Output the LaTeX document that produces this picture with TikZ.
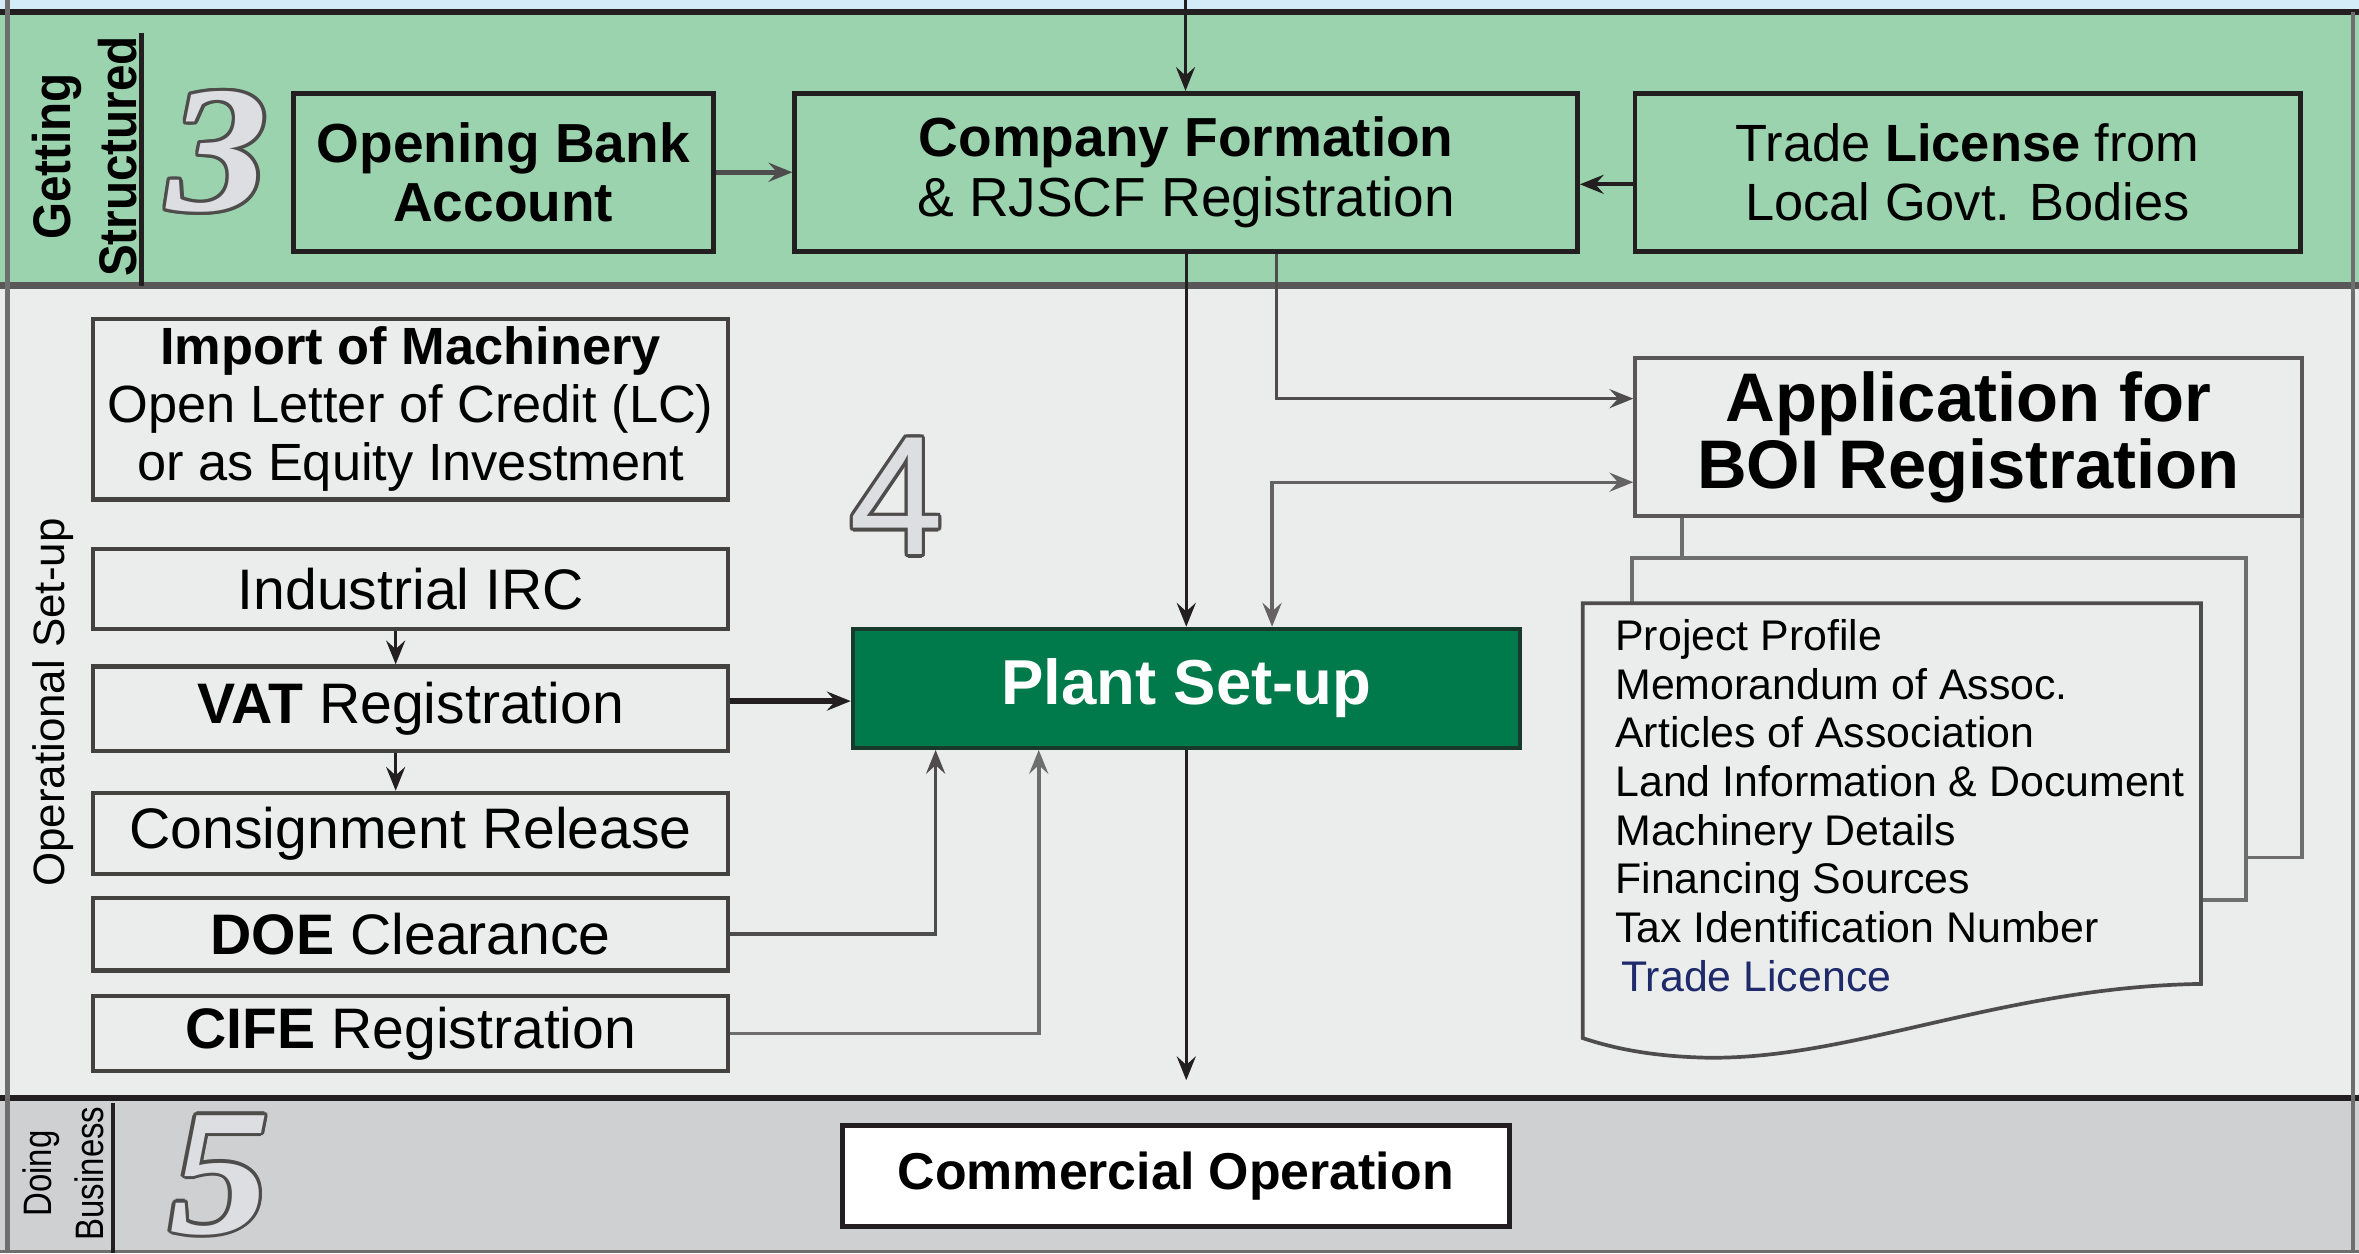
\documentclass[tikz,border=0pt]{standalone}
\usepackage{fontspec}
\setmainfont{Liberation Sans}
\newfontfamily\numserif{Liberation Serif}
\usetikzlibrary{arrows.meta,positioning}

\definecolor{bandblue}{HTML}{D3ECF8}
\definecolor{bandgreen}{HTML}{9AD3AE}
\definecolor{bandgrey}{HTML}{EBEDEC}
\definecolor{banddark}{HTML}{CFD0D2}
\definecolor{inkdark}{HTML}{231F20}
\definecolor{inkgrey}{HTML}{6E6E6E}
\definecolor{plantgreen}{HTML}{007A4A}
\definecolor{licblue}{HTML}{1F2A6B}
\definecolor{numfill}{HTML}{DCDEE2}

\newcommand{\fs}[2]{\fontsize{#1}{#2}\selectfont}

\begin{document}
\begin{tikzpicture}[x=0.01cm,y=-0.01cm,>={Stealth[length=4.5pt,width=3.6pt,inset=1.6pt]}]
        \tikzstyle{greenblock}=[rectangle, draw=inkdark, line width=0.9pt, fill=bandgreen, align=center, inner sep=0pt, minimum height=1.05cm, font=\fs{10.4}{11.2}]
        \tikzstyle{greyblock}=[rectangle, draw=inkdark!85, line width=0.8pt, fill=bandgrey, align=center, inner sep=0pt, minimum width=4.22cm, font=\fs{10.8}{12}]
        \tikzstyle{sidelabel}=[rotate=90, align=center, inner sep=0pt]
        \tikzstyle{sheet}=[draw=inkgrey, line width=0.7pt, fill=bandgrey]
        \tikzstyle{flow}=[->, draw=inkdark, line width=0.6pt]
        \tikzstyle{digitserif}=[inner sep=0pt, xscale=1.12, font=\numserif\bfseries\itshape\fs{34}{34}]
        \tikzstyle{digitsans}=[inner sep=0pt, font=\fs{32}{32}]
        \useasboundingbox (0,0) rectangle (1568,833);

        % bands
        \fill[bandblue] (0,0) rectangle (1568,8);
        \fill[bandgreen] (0,8) rectangle (1568,190);
        \fill[bandgrey] (0,190) rectangle (1568,730);
        \fill[banddark] (0,730) rectangle (1568,833);
        \draw[inkdark, line width=1.2pt] (0,8) -- (1568,8);
        \draw[inkdark!75, line width=1.3pt] (0,190) -- (1568,190);
        \draw[inkdark, line width=1.2pt] (0,730) -- (1568,730);
        \draw[inkgrey, line width=0.6pt] (0,832) -- (1568,832);
        \draw[inkgrey, line width=0.8pt] (5,0) -- (5,833);
        \draw[inkgrey, line width=0.8pt] (1564,8) -- (1564,833);
        \draw[inkdark, line width=0.8pt] (94,22) -- (94,190);
        \draw[inkdark, line width=0.8pt] (75,733) -- (75,833);

        % side labels and stage numbers
        \node[sidelabel, font=\bfseries\fs{10}{12.5}, xscale=0.9] (getting) at (56,104) {Getting\\Structured};
        \node[sidelabel, font=\fs{8.3}{10}] (opsetup) at (35,467) {Operational Set-up};
        \node[sidelabel, font=\fs{7.5}{9.7}, xscale=0.83] (doing) at (42,780) {Doing\\Business};
        \foreach \dg/\pos/\st in {3/{(145,101)}/digitserif, 4/{(596,330)}/digitsans, 5/{(146,781)}/digitserif} {
          \foreach \a in {0,30,...,330}
            \node[\st, text=inkdark!80, shift={(\a:0.022cm)}] at \pos {\dg};
          \node[\st, text=numfill] (num\dg) at \pos {\dg};
        }

        % getting structured
        \node[greenblock, minimum width=2.79cm] (bank) at (334.5,114.5) {\textbf{Opening Bank}\\\textbf{Account}};
        \node[greenblock, minimum width=5.2cm, right = 0.51cm of bank] (company) {\textbf{Company Formation}\\\& RJSCF Registration};
        \node[greenblock, minimum width=4.42cm, right = 0.35cm of company, font=\fs{9.9}{11.2}] (trade) {Trade \textbf{License} from\\Local Govt. Bodies};

        % operational set-up
        \node[greyblock, minimum height=1.2cm, font=\fs{9.9}{11}] (import) at (273,272) {\textbf{Import of Machinery}\\Open Letter of Credit (LC)\\or as Equity Investment};
        \node[greyblock, minimum height=0.53cm] (irc) at (273,391.5) {Industrial IRC};
        \node[greyblock, minimum height=0.56cm] (vat) at (273,471) {\textbf{VAT} Registration};
        \node[greyblock, minimum height=0.54cm] (consign) at (273,554) {Consignment Release};
        \node[greyblock, minimum height=0.48cm] (doe) at (273,621) {\textbf{DOE} Clearance};
        \node[greyblock, minimum height=0.5cm] (cife) at (273,687) {\textbf{CIFE} Registration};

        \node[rectangle, draw=inkdark!70!plantgreen, line width=0.8pt, fill=plantgreen, text=white, inner sep=0pt, minimum width=4.43cm, minimum height=0.79cm, font=\bfseries\fs{12}{14}] (plant) at (788.5,457.5) {Plant Set-up};

        % document stack behind the application
        \draw[sheet] (1118,330) rectangle (1530,570);
        \node[rectangle, draw=inkdark!75, line width=0.7pt, fill=bandgrey, align=center, inner sep=0pt, minimum width=4.43cm, minimum height=1.05cm, font=\bfseries\fs{13}{12.6}] (boi) at (1308.5,290.5) {Application for\\BOI Registration};
        \draw[sheet] (1085,371) rectangle (1493,598);
        \draw[sheet, draw=inkdark!80] (1052,401) -- (1463,401) -- (1463,654)
          .. controls (1330,656) and (1230,705) .. (1133,703)
          .. controls (1095,702) and (1070,696) .. (1052,690) -- cycle;
        \node[anchor=north west, align=left, inner sep=0pt, font=\fs{8.1}{9.2}] (docs) at (1073,411)
          {Project Profile\\Memorandum of Assoc.\\Articles of Association\\Land Information \& Document\\Machinery Details\\Financing Sources\\Tax Identification Number\\\hspace*{0.04cm}\textcolor{licblue}{Trade Licence}};

        % doing business
        \node[rectangle, draw=inkdark, line width=0.9pt, fill=white, inner sep=0pt, minimum width=4.43cm, minimum height=0.67cm, font=\bfseries\fs{9.8}{12}] (commercial) at (781.5,781.5) {Commercial Operation};

        % connectors
        \coordinate (entry) at (788,0);
        \coordinate (exit) at (788.5,718);
        \draw[flow] (entry) -- (entry |- company.north);
        \draw[->, draw=inkdark!80, line width=0.9pt] (bank) -- (company);
        \draw[flow, line width=0.8pt] ([yshift=-0.08cm]trade.west) -- ([yshift=-0.08cm]company.east);
        \draw[flow] (plant.north |- company.south) -- (plant.north);
        \draw[flow, draw=inkdark!80] ([xshift=0.6cm]company.south) |- ([yshift=0.255cm]boi.west);
        \draw[<->, draw=inkdark!70, line width=0.6pt] ([xshift=0.57cm]plant.north) |- ([yshift=-0.3cm]boi.west);
        \draw[flow] ([xshift=-0.1cm]irc.south) -- ([xshift=-0.1cm]vat.north);
        \draw[flow] ([xshift=-0.1cm]vat.south) -- ([xshift=-0.1cm]consign.north);
        \draw[->, draw=inkdark, line width=1pt] ([yshift=0.05cm]vat.east) -- ([yshift=0.05cm]vat.east -| plant.west);
        \draw[flow, draw=inkdark!80, line width=0.7pt] (doe.east) -| ([xshift=-1.665cm]plant.south);
        \draw[flow, draw=inkgrey, line width=0.7pt] (cife.east) -| ([xshift=-0.98cm]plant.south);
        \draw[flow] (plant.south) -- (exit);
      \end{tikzpicture}
\end{document}
